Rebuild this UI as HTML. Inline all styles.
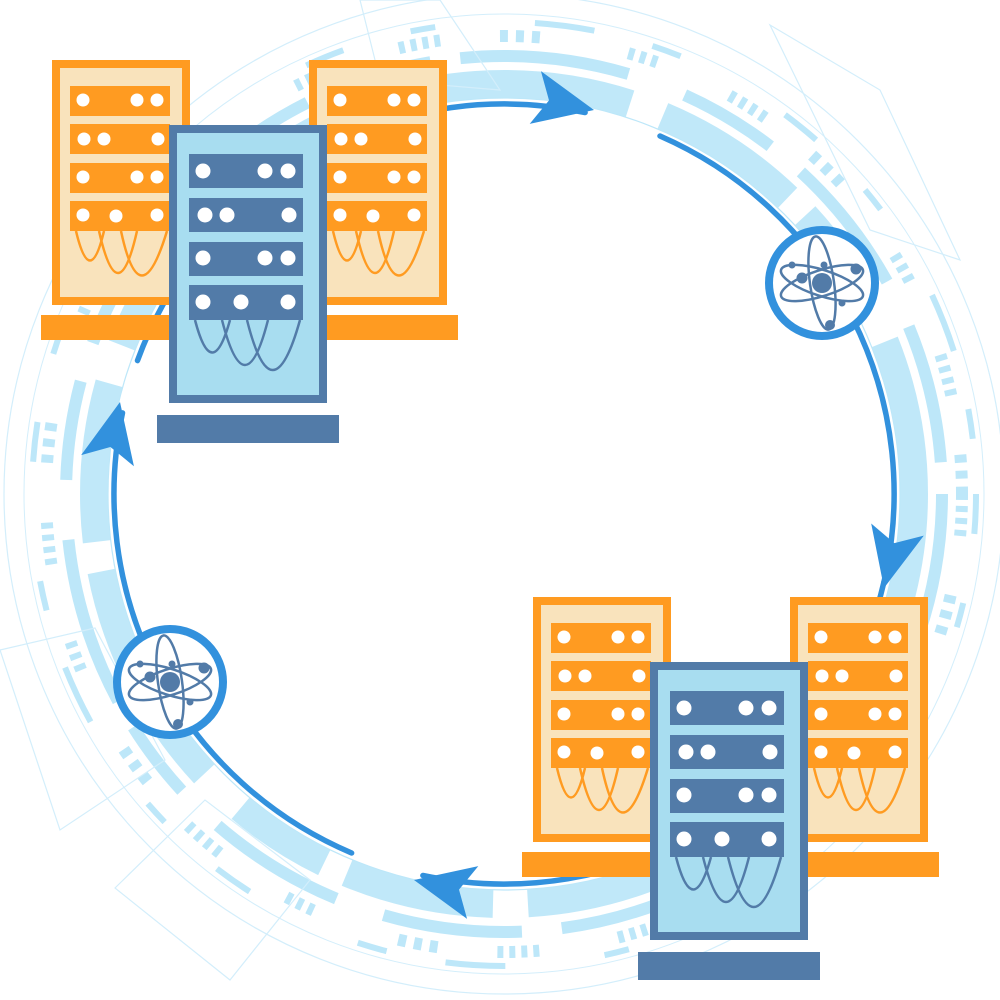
<!DOCTYPE html>
<html><head><meta charset="utf-8"><style>html,body{margin:0;padding:0;background:#fff}svg{display:block}</style></head>
<body>
<svg width="1000" height="1000" viewBox="0 0 1000 1000" xmlns="http://www.w3.org/2000/svg">
<defs>
<g id="atom">
<circle r="53" fill="#fff" stroke="#3291dd" stroke-width="8"/>
<g fill="none" stroke="#527ba8" stroke-width="2.5">
<ellipse rx="43" ry="13" transform="rotate(18)"/>
<ellipse rx="43" ry="13" transform="rotate(-18)"/>
<ellipse rx="12" ry="47" transform="rotate(-8)"/>
</g>
<g fill="#527ba8">
<circle r="10"/><circle cx="-20" cy="-5" r="5.5"/><circle cx="34" cy="-14" r="5.5"/><circle cx="8" cy="42" r="5"/><circle cx="-30" cy="-18" r="3.5"/><circle cx="20" cy="20" r="3.5"/><circle cx="2" cy="-18" r="3.5"/>
</g>
</g>
<g id="orack">
<rect x="56" y="64" width="130" height="237" fill="#f9e3bc" stroke="#ff9b21" stroke-width="8"/>
<g fill="#ff9b21"><rect x="70" y="86" width="100" height="30"/><rect x="70" y="124" width="100" height="30"/><rect x="70" y="163" width="100" height="30"/><rect x="70" y="201" width="100" height="30"/></g>
<g fill="#fff"><circle cx="83" cy="100" r="6.5"/><circle cx="137" cy="100" r="6.5"/><circle cx="157" cy="100" r="6.5"/>
<circle cx="84" cy="139" r="6.5"/><circle cx="104" cy="139" r="6.5"/><circle cx="158" cy="139" r="6.5"/>
<circle cx="83" cy="177" r="6.5"/><circle cx="137" cy="177" r="6.5"/><circle cx="157" cy="177" r="6.5"/>
<circle cx="83" cy="215" r="6.5"/><circle cx="116" cy="216" r="6.5"/><circle cx="157" cy="215" r="6.5"/></g>
<g fill="none" stroke="#ff9b21" stroke-width="2.5"><path d="M76 231 Q90 290 104 231"/><path d="M99 231 Q118 315 137 231"/><path d="M121 231 Q140 320 167 231"/></g>
</g>
<g id="group">
<rect x="41" y="315" width="417" height="25" fill="#ff9b21"/>
<use href="#orack"/>
<use href="#orack" x="257"/>
<rect x="173" y="129" width="150" height="270" fill="#a8ddf0" stroke="#527ba8" stroke-width="8"/>
<g fill="#527ba8"><rect x="189" y="154" width="114" height="34"/><rect x="189" y="198" width="114" height="34"/><rect x="189" y="242" width="114" height="34"/><rect x="189" y="285" width="114" height="35"/></g>
<g fill="#fff"><circle cx="203" cy="171" r="7.5"/><circle cx="265" cy="171" r="7.5"/><circle cx="288" cy="171" r="7.5"/>
<circle cx="205" cy="215" r="7.5"/><circle cx="227" cy="215" r="7.5"/><circle cx="289" cy="215" r="7.5"/>
<circle cx="203" cy="258" r="7.5"/><circle cx="265" cy="258" r="7.5"/><circle cx="288" cy="258" r="7.5"/>
<circle cx="203" cy="302" r="7.5"/><circle cx="241" cy="302" r="7.5"/><circle cx="288" cy="302" r="7.5"/></g>
<g fill="none" stroke="#527ba8" stroke-width="2.5"><path d="M195 320 Q212 385 230 320"/><path d="M222 320 Q245 410 268 320"/><path d="M247 320 Q272 420 300 320"/></g>
<rect x="157" y="415" width="182" height="28" fill="#527ba8"/>
</g>
</defs>

<g fill="none" stroke="#bde7f9">
<circle cx="504" cy="494" r="500" stroke-width="1.2" stroke="#d3eefb"/>
<circle cx="504" cy="494" r="396" stroke-width="1.2"/>
<circle cx="504" cy="494" r="410" stroke-width="28" stroke-dasharray="200 30 110 40 240 35 150 25 100 50 230 30 160 40" opacity="0.95"/>
<circle cx="504" cy="494" r="438" stroke-width="12" stroke-dasharray="140 50 80 30 170 60 100 40 140 50" />
<circle cx="504" cy="494" r="458" stroke-width="12" stroke-dasharray="6 6 6 6 6 6 6 60 8 8 8 8 8 90 6 6 6 6 6 80"/>
<circle cx="504" cy="494" r="472" stroke-width="6" stroke-dasharray="40 70 25 100 60 60 30 120"/>
<circle cx="504" cy="494" r="480" stroke-width="1" stroke="#d3eefb"/>
</g>
<g fill="none" stroke="#d3eefb" stroke-width="1.2">
<polygon points="0,650 95,628 165,760 60,830"/>
<polygon points="115,888 205,800 310,880 230,980"/>
<polygon points="770,25 880,90 960,260 870,230"/>
<polygon points="360,0 440,0 500,90 380,80"/>
</g>

<g fill="none" stroke="#3291dd" stroke-width="5.5" stroke-linecap="round">
<path d="M137.5 360.6 A390 390 0 0 1 585.1 112.5"/>
<path d="M660 136 A390 390 0 0 1 884 581.7"/>
<path d="M884 581.7 A390 390 0 0 1 422.9 875.5"/>
<path d="M351.6 853 A390 390 0 0 1 122.5 412.9"/>
</g>
<g fill="#3291dd">
<polygon points="0,0 -60,-27 -46,0 -60,27" transform="translate(594,110) rotate(12)"/>
<polygon points="0,0 -60,-27 -46,0 -60,27" transform="translate(884,588) rotate(103)"/>
<polygon points="0,0 -60,-27 -46,0 -60,27" transform="translate(414,880) rotate(192)"/>
<polygon points="0,0 -60,-27 -46,0 -60,27" transform="translate(120,402) rotate(282)"/>
</g>

<use href="#atom" transform="translate(822,283)"/>
<use href="#atom" transform="translate(170,682)"/>

<use href="#group"/>
<use href="#group" transform="translate(481,537)"/>
</svg>
</body></html>
